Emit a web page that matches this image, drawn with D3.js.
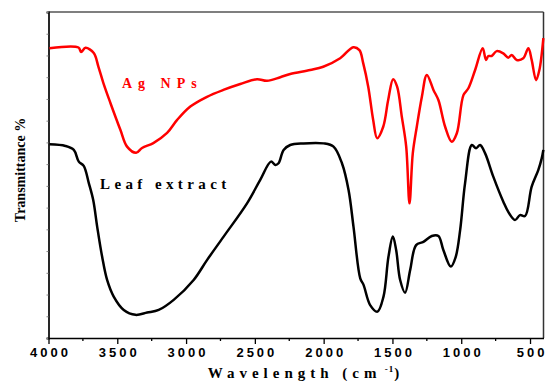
<!DOCTYPE html>
<html>
<head>
<meta charset="utf-8">
<script src="https://cdn.jsdelivr.net/npm/d3@7"></script>
<style>
  body { margin: 0; background: #fff; }
  svg { display: block; }
  .tick-label { font-family: "Liberation Sans", Arial, sans-serif; font-weight: bold; font-size: 13px; letter-spacing: 3px; }
  .title { font-family: "Liberation Serif", "Times New Roman", serif; font-weight: bold; }
</style>
</head>
<body>
<div id="chart"></div>
<script>
// wavenumbers (cm-1) and transmittance (arbitrary %)
const agWave = [3993, 3782, 3763, 3731, 3671, 3637, 3601, 3550, 3477, 3429, 3363, 3320, 3238, 3138, 3065, 2969, 2848, 2729, 2606, 2485, 2412, 2315, 2243, 2098, 2003, 1880, 1785, 1740, 1713, 1676, 1640, 1611, 1567, 1531, 1495, 1466, 1432, 1400, 1376, 1352, 1323, 1286, 1250, 1202, 1166, 1117, 1069, 1032, 984, 948, 899, 844, 820, 803, 779, 742, 694, 658, 633, 597, 549, 512, 488, 456, 432, 403];
const agTrans = [88.9, 89.1, 87.7, 89.0, 87.4, 83.2, 78.2, 72.1, 63.8, 58.7, 56.8, 58.3, 59.8, 62.9, 66.9, 71.0, 74.0, 76.1, 77.9, 79.4, 78.9, 80.0, 81.0, 82.2, 83.2, 85.8, 89.2, 88.3, 84.4, 77.1, 66.9, 61.3, 64.8, 73.0, 79.4, 77.1, 67.9, 58.7, 41.3, 56.7, 64.8, 74.0, 80.7, 76.1, 73.0, 64.8, 60.2, 62.8, 74.5, 76.6, 82.2, 88.9, 85.3, 86.5, 86.5, 88.0, 87.3, 86.0, 86.8, 85.3, 85.8, 88.9, 85.3, 79.1, 82.2, 92.0];

const leafWave = [3993, 3877, 3816, 3780, 3744, 3707, 3675, 3646, 3610, 3574, 3526, 3453, 3368, 3283, 3199, 3090, 2945, 2848, 2727, 2557, 2461, 2383, 2352, 2328, 2291, 2243, 2146, 2001, 1928, 1867, 1819, 1783, 1734, 1710, 1662, 1609, 1565, 1529, 1497, 1473, 1444, 1408, 1371, 1328, 1275, 1214, 1166, 1130, 1076, 1040, 1008, 972, 923, 892, 863, 827, 767, 694, 658, 609, 573, 536, 488, 440, 415, 403];
const leafTrans = [59.4, 58.9, 57.7, 54.1, 52.8, 47.5, 42.3, 34.1, 24.9, 17.8, 12.7, 8.6, 7.1, 7.8, 8.6, 11.7, 17.8, 23.9, 31.1, 41.3, 48.5, 54.1, 53.1, 53.6, 57.7, 59.2, 59.7, 59.7, 58.7, 53.6, 45.4, 34.1, 18.3, 16.3, 10.1, 8.1, 12.7, 24.9, 31.1, 27.0, 17.8, 13.9, 20.9, 28.5, 29.5, 31.3, 31.3, 27.0, 21.9, 24.9, 33.1, 47.5, 59.2, 58.2, 59.2, 56.7, 49.5, 41.8, 38.7, 36.2, 37.7, 37.4, 46.4, 51.5, 55.1, 57.7];

const xTicks = [4000, 3500, 3000, 2500, 2000, 1500, 1000, 500];
const xMinorTicks = [3750, 3250, 2750, 2250, 1750, 1250, 750];
const seriesNames = ["Ag NPs", "Leaf extract"];
const seriesColors = ["#ff0000", "#000000"];

const W = 546, H = 381;
const margin = {top: 12, right: 2.5, bottom: 43, left: 48.5};
const width = W - margin.left - margin.right;
const height = H - margin.top - margin.bottom;

const svg = d3.select("#chart").append("svg")
    .attr("width", W)
    .attr("height", H);

const g = svg.append("g")
    .attr("transform", `translate(${margin.left},${margin.top})`);

const x = d3.scaleLinear()
    .domain([4000, 402])
    .range([0, width]);

const y = d3.scaleLinear()
    .domain([0, 100])
    .range([height, 0]);

// frame: top and right borders
g.append("line")
    .attr("x1", 0).attr("x2", width)
    .attr("y1", 0).attr("y2", 0)
    .attr("stroke", "#555").attr("stroke-width", 1.5);
g.append("line")
    .attr("x1", width).attr("x2", width)
    .attr("y1", 0).attr("y2", height)
    .attr("stroke", "#333").attr("stroke-width", 1.5);

// left axis with small ticks, no labels
const yTickVals = d3.range(0, 101, 100 / 15);
const yAxis = d3.axisLeft(y).tickValues(yTickVals).tickSize(2).tickFormat("");
g.append("g").attr("class", "y-axis").call(yAxis)
    .call(a => a.select(".domain").attr("stroke", "#111").attr("stroke-width", 1.8))
    .call(a => a.selectAll(".tick line").attr("stroke", "#888"));

// bottom axis
const xAxis = d3.axisBottom(x).tickValues(xTicks).tickSize(6).tickSizeOuter(0).tickPadding(4)
    .tickFormat(d3.format("d"));
const xAxisG = g.append("g").attr("class", "x-axis")
    .attr("transform", `translate(0,${height})`)
    .call(xAxis);
xAxisG.select(".domain").attr("stroke", "#000").attr("stroke-width", 1.5);
xAxisG.selectAll(".tick line").attr("stroke", "#000").attr("stroke-width", 1.3);
xAxisG.selectAll(".tick text")
    .attr("class", "tick-label")
    .attr("fill", "#000")
    .attr("dx", "1.5px")
    .style("font-size", "13px");

g.append("g")
    .attr("transform", `translate(0,${height})`)
    .selectAll("line")
    .data(xMinorTicks)
    .enter()
    .append("line")
    .attr("x1", d => x(d)).attr("x2", d => x(d))
    .attr("y1", 0).attr("y2", 3)
    .attr("stroke", "#000").attr("stroke-width", 1.3);

// curves
const line = d3.line()
    .x(d => x(d[0]))
    .y(d => y(d[1]))
    .curve(d3.curveCatmullRom.alpha(0.5));

const series = [
    {name: seriesNames[0], data: d3.zip(agWave, agTrans), color: seriesColors[0]},
    {name: seriesNames[1], data: d3.zip(leafWave, leafTrans), color: seriesColors[1]}
];

g.selectAll(".curve")
    .data(series)
    .enter()
    .append("path")
    .attr("class", "curve")
    .attr("d", d => line(d.data))
    .attr("fill", "none")
    .attr("stroke", d => d.color)
    .attr("stroke-width", 2.5)
    .attr("stroke-linejoin", "round");

// series labels
svg.append("text")
    .attr("class", "title")
    .attr("x", 122).attr("y", 88)
    .attr("fill", seriesColors[0])
    .style("font-size", "14px")
    .style("letter-spacing", "6px")
    .text(seriesNames[0]);

svg.append("text")
    .attr("class", "title")
    .attr("x", 100).attr("y", 189)
    .attr("fill", seriesColors[1])
    .style("font-size", "15px")
    .style("letter-spacing", "4.4px")
    .text(seriesNames[1]);

// axis titles
const xt = svg.append("text")
    .attr("class", "title")
    .attr("x", 306).attr("y", 378)
    .attr("text-anchor", "middle")
    .style("font-size", "15px")
    .style("letter-spacing", "5px");
xt.append("tspan").text("Wavelength (cm");
xt.append("tspan").attr("dy", -6).style("font-size", "9px").style("letter-spacing", "1px").text(" -1");
xt.append("tspan").attr("dy", 6).text(")");

svg.append("text")
    .attr("class", "title")
    .attr("transform", "translate(25,170)rotate(-90)")
    .attr("text-anchor", "middle")
    .style("font-size", "14px")
    .text("Transmittance %");
</script>
</body>
</html>
